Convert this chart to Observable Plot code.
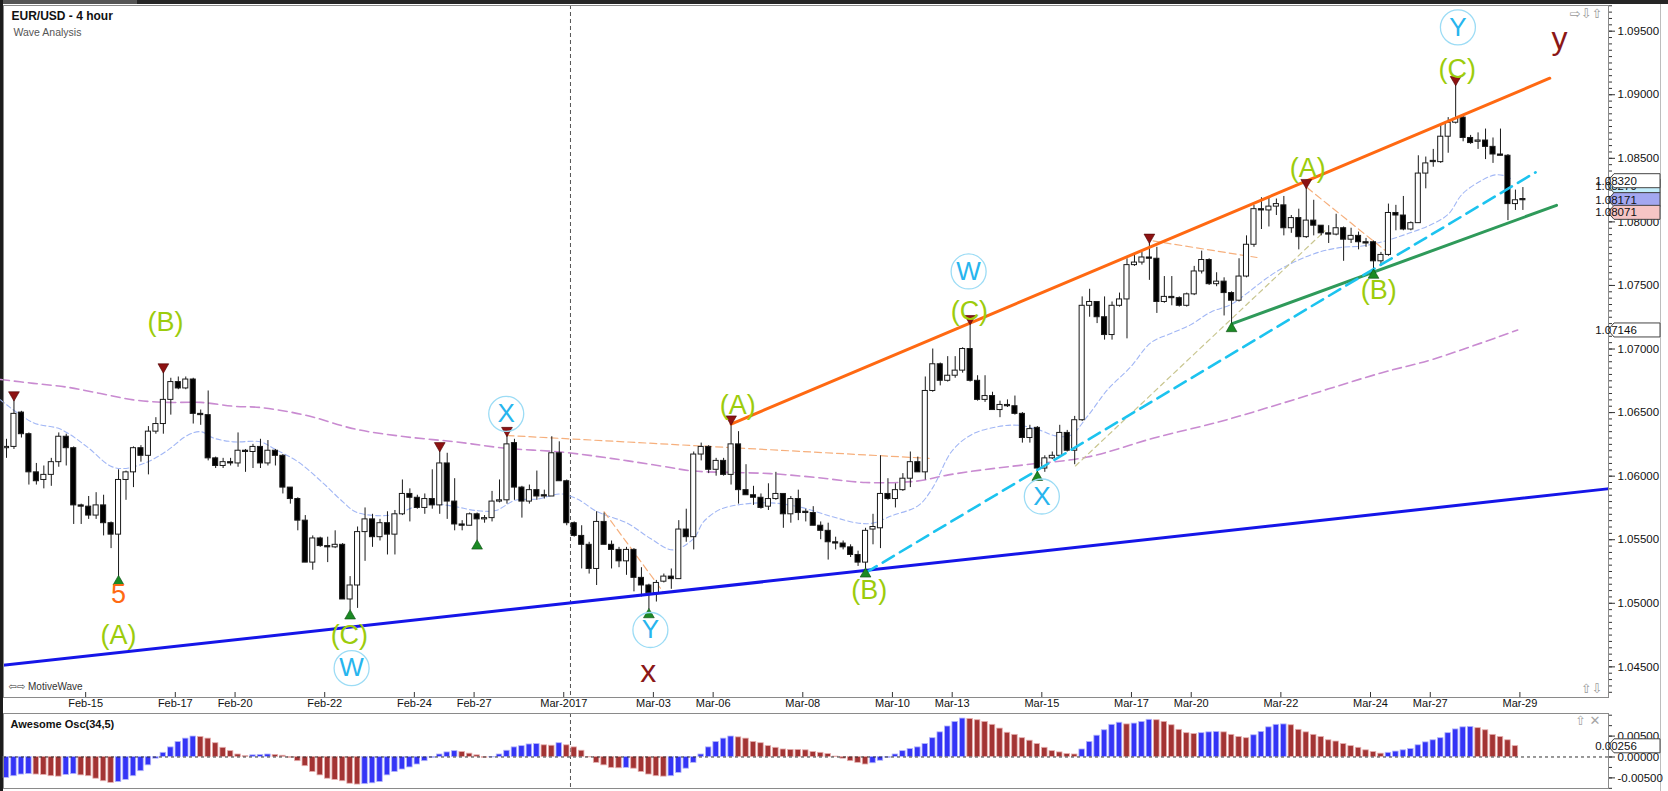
<!DOCTYPE html>
<html>
<head>
<meta charset="utf-8">
<script src="https://cdn.jsdelivr.net/npm/d3@7"></script>
<script src="https://cdn.jsdelivr.net/npm/@observablehq/plot@0.6"></script>
<style>
  html, body { margin: 0; padding: 0; background: #fff; }
  #wrap { position: relative; width: 1668px; height: 791px; overflow: hidden; background: #fff; }
  #wrap > svg { position: absolute; left: 0; }
  .chrome { position: absolute; }
</style>
</head>
<body>
<div id="wrap">
  <div class="chrome" style="left:0;top:0;width:1668px;height:4px;background:#262626"></div>
  <div class="chrome" style="left:0;top:0;width:137px;height:4px;background:#555"></div>
  <div class="chrome" style="left:0;top:0;width:3px;height:791px;background:#1c1c1c"></div>
  <div class="chrome" style="left:1660px;top:4px;width:1px;height:787px;background:#bdbdbd"></div>
</div>
<script>
// ---------------- DATA (EUR/USD 4 hour candles) ----------------
const open = [
1.0622,1.0623,1.0650,1.0633,1.0603,1.0597,1.0601,1.0611,1.0631,1.0622,
1.0577,1.0576,1.0569,1.0577,1.0563,1.0554,1.0597,1.0603,1.0622,1.0616,
1.0635,1.0641,1.0660,1.0674,1.0669,1.0676,1.0649,1.0648,1.0614,1.0608,
1.0611,1.0610,1.0620,1.0619,1.0623,1.0610,1.0620,1.0616,1.0591,1.0582,
1.0565,1.0532,1.0551,1.0545,1.0544,1.0546,1.0503,1.0514,1.0556,1.0566,
1.0552,1.0563,1.0554,1.0570,1.0586,1.0583,1.0575,1.0582,1.0577,1.0610,
1.0580,1.0562,1.0561,1.0570,1.0566,1.0567,1.0580,1.0581,1.0626,1.0591,
1.0580,1.0589,1.0585,1.0584,1.0618,1.0596,1.0563,1.0553,1.0546,1.0527,
1.0564,1.0546,1.0542,1.0533,1.0542,1.0520,1.0514,1.0508,1.0517,1.0521,
1.0519,1.0558,1.0552,1.0617,1.0623,1.0605,1.0612,1.0601,1.0625,1.0589,
1.0585,1.0583,1.0576,1.0582,1.0586,1.0570,1.0582,1.0572,1.0571,1.0561,
1.0557,1.0548,1.0547,1.0544,1.0538,1.0532,1.0558,1.0559,1.0586,1.0582,
1.0589,1.0598,1.0611,1.0603,1.0667,1.0688,1.0675,1.0679,1.0683,1.0700,
1.0675,1.0660,1.0663,1.0652,1.0656,1.0655,1.0649,1.0630,1.0638,1.0606,
1.0614,1.0616,1.0634,1.0620,1.0644,1.0734,1.0737,1.0725,1.0711,1.0734,
1.0739,1.0766,1.0768,1.0772,1.0771,1.0737,1.0741,1.0740,1.0734,1.0743,
1.0761,1.0770,1.0751,1.0753,1.0744,1.0738,1.0757,1.0782,1.0810,1.0809,
1.0812,1.0813,1.0795,1.0803,1.0788,1.0801,1.0797,1.0791,1.0790,1.0795,
1.0786,1.0789,1.0784,1.0784,1.0769,1.0774,1.0807,1.0805,1.0794,1.0799,
1.0838,1.0848,1.0847,1.0867,1.0878,1.0882,1.0866,1.0863,1.0864,1.0859,
1.0853,1.0852,1.0814,1.0818];
const high = [
1.0629,1.0660,1.0651,1.0634,1.0610,1.0608,1.0614,1.0634,1.0633,1.0623,
1.0578,1.0584,1.0587,1.0585,1.0564,1.0605,1.0604,1.0623,1.0624,1.0639,
1.0646,1.0682,1.0677,1.0678,1.0678,1.0677,1.0652,1.0667,1.0615,1.0614,
1.0614,1.0634,1.0621,1.0625,1.0629,1.0628,1.0621,1.0617,1.0591,1.0583,
1.0569,1.0553,1.0552,1.0552,1.0557,1.0547,1.0521,1.0560,1.0575,1.0570,
1.0566,1.0572,1.0573,1.0597,1.0590,1.0585,1.0586,1.0605,1.0620,1.0618,
1.0598,1.0565,1.0571,1.0571,1.0569,1.0588,1.0597,1.0632,1.0629,1.0592,
1.0593,1.0604,1.0589,1.0631,1.0627,1.0597,1.0564,1.0561,1.0548,1.0572,
1.0571,1.0549,1.0544,1.0544,1.0543,1.0528,1.0515,1.0518,1.0523,1.0527,
1.0565,1.0574,1.0619,1.0626,1.0624,1.0614,1.0614,1.0641,1.0635,1.0609,
1.0592,1.0586,1.0594,1.0603,1.0586,1.0584,1.0589,1.0574,1.0576,1.0564,
1.0563,1.0552,1.0549,1.0546,1.0541,1.0559,1.0570,1.0616,1.0598,1.0594,
1.0602,1.0619,1.0615,1.0678,1.0700,1.0689,1.0694,1.0694,1.0701,1.0720,
1.0679,1.0679,1.0666,1.0659,1.0660,1.0663,1.0650,1.0640,1.0639,1.0616,
1.0619,1.0640,1.0636,1.0647,1.0741,1.0747,1.0737,1.0741,1.0737,1.0744,
1.0771,1.0775,1.0776,1.0784,1.0780,1.0757,1.0757,1.0741,1.0744,1.0765,
1.0777,1.0771,1.0760,1.0756,1.0745,1.0771,1.0789,1.0813,1.0819,1.0819,
1.0818,1.0820,1.0805,1.0810,1.0827,1.0817,1.0797,1.0797,1.0806,1.0796,
1.0795,1.0792,1.0787,1.0785,1.0776,1.0814,1.0813,1.0820,1.0800,1.0852,
1.0851,1.0857,1.0876,1.0882,1.0908,1.0884,1.0868,1.0870,1.0873,1.0866,
1.0873,1.0853,1.0825,1.0827];
const low = [
1.0614,1.0621,1.0630,1.0593,1.0593,1.0590,1.0592,1.0607,1.0608,1.0562,
1.0562,1.0566,1.0566,1.0553,1.0543,1.0521,1.0581,1.0591,1.0611,1.0601,
1.0633,1.0633,1.0648,1.0668,1.0668,1.0641,1.0640,1.0612,1.0606,1.0606,
1.0608,1.0607,1.0603,1.0606,1.0606,1.0608,1.0608,1.0586,1.0578,1.0557,
1.0532,1.0526,1.0544,1.0532,1.0543,1.0503,1.0494,1.0496,1.0533,1.0544,
1.0549,1.0538,1.0538,1.0569,1.0564,1.0574,1.0570,1.0574,1.0570,1.0566,
1.0557,1.0557,1.0561,1.0549,1.0563,1.0564,1.0579,1.0578,1.0581,1.0567,
1.0578,1.0581,1.0582,1.0584,1.0596,1.0561,1.0552,1.0527,1.0523,1.0514,
1.0546,1.0527,1.0528,1.0522,1.0509,1.0505,1.0495,1.0501,1.0516,1.0511,
1.0519,1.0548,1.0542,1.0612,1.0602,1.0600,1.0600,1.0593,1.0578,1.0585,
1.0577,1.0574,1.0573,1.0581,1.0559,1.0563,1.0565,1.0564,1.0561,1.0550,
1.0534,1.0542,1.0542,1.0536,1.0529,1.0527,1.0546,1.0543,1.0581,1.0575,
1.0588,1.0591,1.0603,1.0597,1.0666,1.0671,1.0674,1.0677,1.0681,1.0674,
1.0659,1.0658,1.0652,1.0646,1.0654,1.0648,1.0626,1.0626,1.0603,1.0603,
1.0613,1.0615,1.0619,1.0609,1.0643,1.0725,1.0720,1.0707,1.0707,1.0733,
1.0708,1.0765,1.0766,1.0754,1.0728,1.0736,1.0734,1.0733,1.0733,1.0742,
1.0759,1.0750,1.0749,1.0726,1.0720,1.0737,1.0756,1.0780,1.0794,1.0796,
1.0805,1.0789,1.0791,1.0778,1.0787,1.0789,1.0789,1.0783,1.0789,1.0769,
1.0783,1.0778,1.0780,1.0762,1.0765,1.0773,1.0793,1.0793,1.0793,1.0799,
1.0826,1.0843,1.0846,1.0854,1.0877,1.0863,1.0861,1.0857,1.0849,1.0846,
1.0852,1.0801,1.0809,1.0809];
const close = [
1.0623,1.0649,1.0633,1.0603,1.0596,1.0601,1.0611,1.0631,1.0622,1.0577,
1.0576,1.0569,1.0577,1.0563,1.0554,1.0597,1.0603,1.0622,1.0616,1.0635,
1.0641,1.0660,1.0674,1.0669,1.0676,1.0649,1.0648,1.0614,1.0608,1.0611,
1.0610,1.0620,1.0619,1.0623,1.0610,1.0620,1.0616,1.0591,1.0582,1.0565,
1.0532,1.0551,1.0545,1.0544,1.0546,1.0503,1.0514,1.0556,1.0566,1.0552,
1.0563,1.0554,1.0570,1.0586,1.0583,1.0575,1.0582,1.0577,1.0610,1.0580,
1.0562,1.0561,1.0570,1.0566,1.0567,1.0580,1.0581,1.0625,1.0591,1.0580,
1.0589,1.0584,1.0584,1.0618,1.0596,1.0563,1.0553,1.0546,1.0527,1.0564,
1.0546,1.0542,1.0533,1.0542,1.0520,1.0514,1.0508,1.0516,1.0521,1.0519,
1.0558,1.0552,1.0617,1.0623,1.0605,1.0612,1.0601,1.0625,1.0589,1.0585,
1.0583,1.0575,1.0582,1.0586,1.0570,1.0582,1.0571,1.0571,1.0561,1.0557,
1.0548,1.0547,1.0544,1.0538,1.0532,1.0557,1.0560,1.0586,1.0582,1.0589,
1.0598,1.0611,1.0603,1.0667,1.0688,1.0675,1.0679,1.0683,1.0700,1.0675,
1.0660,1.0663,1.0652,1.0656,1.0655,1.0649,1.0630,1.0637,1.0606,1.0614,
1.0616,1.0634,1.0620,1.0644,1.0734,1.0737,1.0725,1.0711,1.0734,1.0739,
1.0766,1.0768,1.0772,1.0771,1.0737,1.0741,1.0740,1.0734,1.0743,1.0761,
1.0770,1.0751,1.0753,1.0744,1.0738,1.0757,1.0782,1.0810,1.0809,1.0812,
1.0814,1.0795,1.0803,1.0788,1.0801,1.0797,1.0791,1.0790,1.0795,1.0786,
1.0789,1.0784,1.0783,1.0769,1.0774,1.0807,1.0805,1.0794,1.0799,1.0838,
1.0846,1.0847,1.0867,1.0878,1.0881,1.0866,1.0862,1.0864,1.0859,1.0853,
1.0852,1.0814,1.0817,1.0817];

// Awesome Oscillator (34,5) bar values
const aoVal = [
-0.0050,-0.0046,-0.0042,-0.0041,-0.0042,-0.0043,-0.0046,-0.0047,-0.0043,-0.0041,
-0.0044,-0.0046,-0.0052,-0.0058,-0.0062,-0.0060,-0.0055,-0.0046,-0.0034,-0.0020,
-0.0004,0.0010,0.0023,0.0036,0.0044,0.0049,0.0048,0.0044,0.0033,0.0022,
0.0014,0.0006,0.0002,0.0004,0.0005,0.0006,0.0005,0.0003,-0.0002,-0.0010,
-0.0022,-0.0036,-0.0044,-0.0052,-0.0055,-0.0058,-0.0064,-0.0066,-0.0065,-0.0063,
-0.0060,-0.0044,-0.0036,-0.0030,-0.0025,-0.0018,-0.0010,-0.0002,0.0006,0.0011,
0.0014,0.0012,0.0008,0.0004,-0.0002,-0.0001,0.0006,0.0015,0.0023,0.0026,
0.0030,0.0031,0.0028,0.0027,0.0033,0.0028,0.0023,0.0015,-0.0001,-0.0014,
-0.0020,-0.0026,-0.0027,-0.0026,-0.0028,-0.0036,-0.0042,-0.0046,-0.0047,-0.0046,
-0.0038,-0.0028,-0.0014,0.0006,0.0023,0.0036,0.0044,0.0049,0.0047,0.0044,
0.0036,0.0033,0.0026,0.0022,0.0018,0.0017,0.0017,0.0016,0.0012,0.0010,
0.0007,0.0001,-0.0004,-0.0010,-0.0014,-0.0018,-0.0015,-0.0009,-0.0002,0.0006,
0.0014,0.0019,0.0023,0.0031,0.0045,0.0059,0.0073,0.0084,0.0092,0.0091,
0.0088,0.0084,0.0077,0.0068,0.0058,0.0053,0.0045,0.0039,0.0031,0.0022,
0.0014,0.0011,0.0007,0.0006,0.0018,0.0036,0.0051,0.0064,0.0077,0.0082,
0.0078,0.0080,0.0084,0.0089,0.0088,0.0084,0.0076,0.0065,0.0057,0.0055,
0.0057,0.0059,0.0060,0.0059,0.0053,0.0048,0.0045,0.0052,0.0060,0.0071,
0.0077,0.0078,0.0076,0.0065,0.0059,0.0053,0.0048,0.0040,0.0037,0.0031,
0.0026,0.0022,0.0016,0.0012,0.0008,0.0010,0.0013,0.0016,0.0019,0.0028,
0.0035,0.0040,0.0045,0.0057,0.0066,0.0071,0.0072,0.0069,0.0064,0.0053,
0.0048,0.0040,0.0026];

// Moving averages (bar index, price)
const fastIdx = [-0.8,3.6,7.2,10.8,13.9,15.7,18.8,21.5,24.2,26,27.7,30.4,34,36,39.1,42.3,45,46.7,49.4,52,
54.8,57.4,60.1,62.8,65.5,68.1,71.1,74.2,76.4,79.1,83.1,86.2,89.2,92,93.3,95.6,98.7,102.3,106,110.6,
114.1,115.9,118.6,122.1,124,126.6,129.3,132.8,135.5,138.4,140.2,142.4,144.7,147.4,150.5,153.2,155.8,158.5,161.2,163.9,
166.1,168.3,170.6,172.6,175.6,178.8,181.5,184.6,187.7,190.4,193,194.9,197.6,199.3,200.7,201.6];
const fastVal = [1.0660,1.0642,1.0637,1.0623,1.0608,1.0606,1.0611,1.0620,1.0632,1.0635,1.0630,1.0627,1.0627,1.0621,1.0611,1.0595,1.0580,1.0572,1.0569,1.0570,
1.0576,1.0578,1.0576,1.0573,1.0573,1.0581,1.0582,1.0586,1.0582,1.0572,1.0563,1.0551,1.0542,1.0551,1.0564,1.0574,1.0578,1.0579,1.0576,1.0568,
1.0563,1.0563,1.0569,1.0577,1.0591,1.0620,1.0633,1.0639,1.0640,1.0636,1.0632,1.0632,1.0647,1.0668,1.0686,1.0705,1.0712,1.0719,1.0729,1.0735,
1.0744,1.0754,1.0763,1.0769,1.0776,1.0780,1.0781,1.0785,1.0791,1.0797,1.0806,1.0822,1.0833,1.0837,1.0836,1.0833];
const slowIdx = [-0.8,3.6,8.1,12.6,17,21.5,26,30.4,34,40,46.7,53.4,60.1,66.8,74.2,80.9,87.6,92,96.5,
102.3,108.3,115,121.7,126.1,130.7,136.4,144.7,153.6,162.5,170.6,183.9,191,202.3];
const slowVal = [1.0676,1.0673,1.0670,1.0665,1.0660,1.0658,1.0658,1.0655,1.0654,1.0648,1.0637,1.0631,1.0627,1.0622,1.0619,1.0614,1.0608,1.0604,1.0603,
1.0602,1.0599,1.0595,1.0596,1.0601,1.0605,1.0609,1.0615,1.0630,1.0643,1.0657,1.0681,1.0692,1.0715];

// Drawn trend lines: [bar index, price] end points
const blueLine   = [[-0.8, 1.0451], [214.3, 1.0590]];
const orangeLine = [[97, 1.0641], [206.6, 1.0913]];
const greenLine  = [[164.1, 1.0720], [207.5, 1.0813]];
const cyanLine   = [[115, 1.0524], [204.7, 1.0839]];
const khakiLine  = [[143.1, 1.0608], [176.5, 1.0793]];
const thinOrange = [
  [[67, 1.0632], [123.5, 1.0614]],
  [[80, 1.0572], [87.9, 1.0509]],
  [[153.5, 1.0785], [167.4, 1.0772]],
  [[174.1, 1.0827], [185.3, 1.0774]]
];

// Swing markers (bar indices)
const highMarks = [1, 21, 58, 67, 97, 129, 153, 174, 194];
const lowMarks  = [15, 46, 63, 86, 115, 138, 164, 183];

// Wave labels
const waveText  = ["5","(A)","(B)","(C)","W","X","Y","x","(A)","(B)","W","(C)","X","(A)","(B)","(C)","Y","y"];
const waveIdx   = [15,15,21.3,45.9,46.2,66.9,86.2,85.9,97.9,115.5,128.8,128.9,138.6,174.2,183.7,194.2,194.3,207.9];
const wavePrice = [1.0507,1.0475,1.0721,1.0475,1.0449,1.0649,1.0479,1.0446,1.0656,1.0510,1.0761,1.0730,1.0584,1.0842,1.0746,1.0920,1.0953,1.0944];
const waveKind  = ["minute","minor","minor","minor","circle","circle","circle","major","minor","minor","circle","minor","circle","minor","minor","minor","circle","major"];

// Axis ticks
const tickLabels = ["Feb-15","Feb-17","Feb-20","Feb-22","Feb-24","Feb-27","Mar-2017","Mar-03","Mar-06","Mar-08",
                    "Mar-10","Mar-13","Mar-15","Mar-17","Mar-20","Mar-22","Mar-24","Mar-27","Mar-29"];
const tickIdx = [10.6,22.6,30.6,42.6,54.6,62.6,74.6,86.6,94.6,106.6,118.6,126.6,138.6,150.6,158.6,170.6,182.6,190.6,202.6];
const monthLine = [75.5];
const priceTicks = [1.045,1.050,1.055,1.060,1.065,1.070,1.075,1.080,1.085,1.090,1.095];
const aoTicks = [-0.005, 0, 0.005];

// Price tags on the right axis
const tagPrice = [1.08279, 1.08320, 1.08171, 1.08071, 1.07146];
const tagFill  = ["#c2edfb", "#ffffff", "#a3a7f0", "#f6c5c5", "#ffffff"];
const aoTag = 0.00256;

// ---------------- CHART ----------------
const FONT = '"Liberation Sans", Arial, "DejaVu Sans", sans-serif';
const W = 1668;
const xDomain = [-0.4, 214.46];
const priceDomain = [1.04259, 1.09702];
const aoDomain = [-0.00754, 0.01041];

const candles = open.map((o, i) => ({i, o, h: high[i], l: low[i], c: close[i]}));
const fastMA = fastIdx.map((i, k) => ({i, v: fastVal[k]}));
const slowMA = slowIdx.map((i, k) => ({i, v: slowVal[k]}));
const waves = waveText.map((t, k) => ({t, i: waveIdx[k], p: wavePrice[k], kind: waveKind[k]}));
const labelMap = new Map(tickIdx.map((t, k) => [t, tickLabels[k]]));
const minorPrice = d3.range(0, 110).map(k => 1.0430 + k * 0.0005);
const minorAo = d3.range(-3, 5).map(k => k * 0.0025);

const byKind = k => waves.filter(d => d.kind === k);

const main = Plot.plot({
  width: W, height: 712,
  marginTop: 5, marginBottom: 15, marginLeft: 3, marginRight: 60,
  x: {domain: xDomain, label: null},
  y: {domain: priceDomain, label: null},
  style: {fontFamily: FONT, background: "transparent", overflow: "visible", color: "#111"},
  marks: [
    Plot.ruleX(monthLine, {stroke: "#555", strokeDasharray: "4,3", strokeWidth: 1}),
    Plot.line(slowMA, {x: "i", y: "v", curve: "catmull-rom", stroke: "#c98bd1", strokeWidth: 1.6, strokeDasharray: "9,5"}),
    Plot.line(fastMA, {x: "i", y: "v", curve: "catmull-rom", stroke: "#a2b7f5", strokeWidth: 1.1, strokeDasharray: "5,3"}),
    ...thinOrange.map(seg => Plot.line(seg, {stroke: "#f6af7c", strokeWidth: 1.2, strokeDasharray: "7,4"})),
    Plot.line(khakiLine, {stroke: "#c9c690", strokeWidth: 1.2, strokeDasharray: "5,4"}),
    Plot.ruleX(candles, {x: "i", y1: "l", y2: "h", stroke: "#1a1a1a", strokeWidth: 1}),
    Plot.rect(candles, {
      x1: d => d.i - 0.34, x2: d => d.i + 0.34,
      y1: d => Math.min(d.o, d.c), y2: d => Math.max(d.o, d.c),
      fill: d => d.c >= d.o ? "#ffffff" : "#000000", stroke: "#1a1a1a", strokeWidth: 1
    }),
    Plot.line(blueLine, {stroke: "#1515e8", strokeWidth: 3, clip: true}),
    Plot.line(orangeLine, {stroke: "#ff6912", strokeWidth: 3}),
    Plot.line(greenLine, {stroke: "#2f9a5a", strokeWidth: 3}),
    Plot.line(cyanLine, {stroke: "#1cc3ef", strokeWidth: 2.6, strokeDasharray: "13,7"}),
    Plot.dot(highMarks.map(i => candles[i]), {x: "i", y: "h", symbol: "triangle", rotate: 180, r: 4, dy: -5, fill: "#8e1212", stroke: "#4a0000", strokeWidth: 0.6}),
    Plot.dot(lowMarks.map(i => candles[i]), {x: "i", y: "l", symbol: "triangle", r: 4, dy: 5, fill: "#1b8a24", stroke: "#0a4a10", strokeWidth: 0.6}),
    Plot.dot(byKind("circle"), {x: "i", y: "p", r: 17.5, stroke: "#9cdcf5", strokeWidth: 1.3, fill: "none"}),
    Plot.text(byKind("circle"), {x: "i", y: "p", text: "t", fill: "#27b5ee", fontSize: 26, fontFamily: FONT}),
    Plot.text(byKind("minor"), {x: "i", y: "p", text: "t", fill: "#9ccc0c", fontSize: 27, fontFamily: FONT}),
    Plot.text(byKind("minute"), {x: "i", y: "p", text: "t", fill: "#ff6a12", fontSize: 27, fontFamily: FONT}),
    Plot.text(byKind("major"), {x: "i", y: "p", text: "t", fill: "#8b1717", fontSize: 32, fontFamily: FONT}),
    Plot.axisY(minorPrice, {anchor: "right", tickSize: 3, tickFormat: () => "", label: null, stroke: "#333"}),
    Plot.axisY(priceTicks, {anchor: "right", tickSize: 6, tickPadding: 3, tickFormat: d => d.toFixed(5), fontSize: 11.5, label: null, stroke: "#333"}),
    Plot.axisX(tickIdx, {anchor: "bottom", tickSize: 5, dy: -5, tickFormat: () => "", label: null, stroke: "#333"}),
    Plot.axisX(tickIdx, {anchor: "bottom", tickSize: 0, tickPadding: 2, tickFormat: d => labelMap.get(d), fontSize: 11, label: null}),
    Plot.text(["EUR/USD - 4 hour"], {text: d => d, frameAnchor: "top-left", dx: 8, dy: 6, fontSize: 12, fontWeight: "bold", fill: "#111"}),
    Plot.text(["Wave Analysis"], {text: d => d, frameAnchor: "top-left", dx: 10, dy: 23, fontSize: 10.5, fill: "#555"}),
    Plot.text(["\u21E6\u21E8 MotiveWave"], {text: d => d, frameAnchor: "bottom-left", dx: 5, dy: -8, fontSize: 10, fill: "#333"}),
    Plot.text(["\u21E8\u21E9\u21E7"], {text: d => d, frameAnchor: "top-right", dx: -6, dy: 3, fontSize: 13, fill: "#9a9a9a"}),
    Plot.text(["\u21E7\u21E9"], {text: d => d, frameAnchor: "bottom-right", dx: -6, dy: -5, fontSize: 13, fill: "#9a9a9a"}),
    Plot.frame({stroke: "#8a8a8a"})
  ]
});

const ao = aoVal.map((v, i) => ({i, v, up: i === 0 || v > aoVal[i - 1]}));
const osc = Plot.plot({
  width: W, height: 80,
  marginTop: 2, marginBottom: 3, marginLeft: 3, marginRight: 60,
  x: {domain: xDomain, label: null, axis: null},
  y: {domain: aoDomain, label: null},
  style: {fontFamily: FONT, background: "transparent", overflow: "visible", color: "#111"},
  marks: [
    Plot.ruleX(monthLine, {stroke: "#555", strokeDasharray: "4,3", strokeWidth: 1}),
    Plot.rect(ao, {
      x1: d => d.i - 0.37, x2: d => d.i + 0.37, y1: 0, y2: "v",
      fill: d => d.up ? "#3434f6" : "#a33434", stroke: d => d.up ? "#b4b6fb" : "#e6b0b0", strokeWidth: 0.8
    }),
    Plot.ruleY([0], {stroke: "#333", strokeDasharray: "3,3", strokeWidth: 1}),
    Plot.axisY(minorAo, {anchor: "right", tickSize: 3, tickFormat: () => "", label: null, stroke: "#333"}),
    Plot.axisY(aoTicks, {anchor: "right", tickSize: 6, tickPadding: 3, tickFormat: d => d.toFixed(5), fontSize: 11.5, label: null, stroke: "#333"}),
    Plot.text(["Awesome Osc(34,5)"], {text: d => d, frameAnchor: "top-left", dx: 7, dy: 7, fontSize: 11, fontWeight: "bold", fill: "#111"}),
    Plot.text(["\u21E7 \u2715"], {text: d => d, frameAnchor: "top-right", dx: -8, dy: 2, fontSize: 13, fill: "#a5a5a5"}),
    Plot.frame({stroke: "#8a8a8a"})
  ]
});

// value tags on the price axis, positioned through the charts' own y scales
function addTags(svgEl, values, fills) {
  const ys = svgEl.scale("y");
  const x0 = W - 60;
  const g = d3.select(svgEl).append("g").attr("font-family", FONT).attr("font-size", 11.5);
  values.forEach((v, k) => {
    const y = ys.apply(v);
    g.append("path")
      .attr("d", `M${x0},${y} L${x0 + 6},${y - 7} H${x0 + 52} V${y + 7} H${x0 + 6} Z`)
      .attr("fill", fills[k]).attr("stroke", "#444").attr("stroke-width", 1);
    g.append("text").attr("x", x0 + 8).attr("y", y).attr("dy", "0.36em").attr("fill", "#111").text(v.toFixed(5));
  });
}
addTags(main, tagPrice, tagFill);
addTags(osc, [aoTag], ["#ffffff"]);

const wrap = document.getElementById("wrap");
main.style.top = "0px";
osc.style.top = "711px";
wrap.appendChild(main);
wrap.appendChild(osc);
</script>
</body>
</html>
